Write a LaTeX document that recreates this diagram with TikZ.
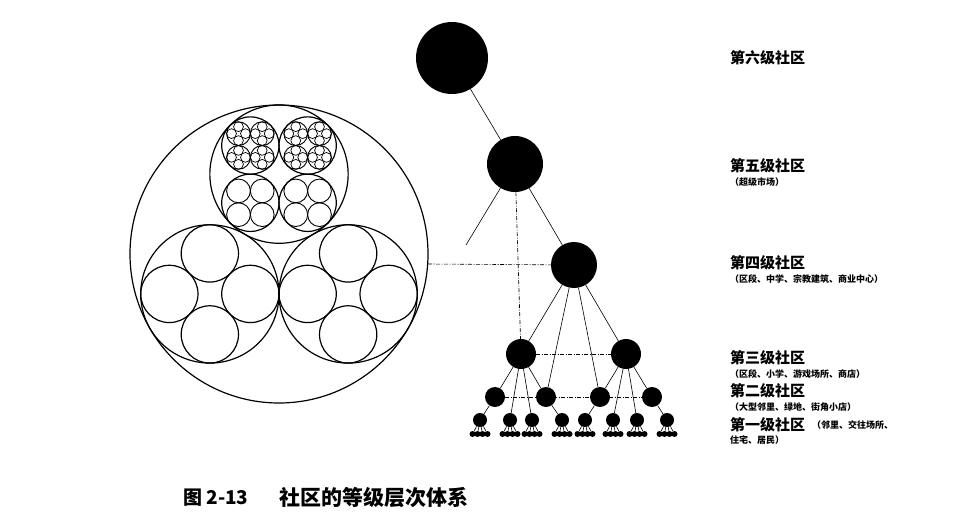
\documentclass[tikz,border=0pt]{standalone}
\usepackage{fontspec}
\newfontfamily\cjk{Noto Sans CJK SC}
\usetikzlibrary{calc}

\begin{document}
\begin{tikzpicture}[x=1pt, y=-1pt,
    dot/.style={circle, fill=black, inner sep=0pt},
    link/.style={line width=0.6pt},
    dlink/.style={line width=0.6pt, dash pattern=on 4pt off 1.5pt on 1pt off 1.5pt},
    ring/.style={line width=1.2pt},
    lab/.style={anchor=west, inner sep=0pt, font=\cjk\bfseries\fontsize{15}{15}\selectfont},
    sub/.style={anchor=west, inner sep=0pt, font=\cjk\bfseries\fontsize{9}{9}\selectfont}]

    \useasboundingbox (0,0) rectangle (954,522);

    % --- 1. 变量定义 ---
    \pgfmathsetmacro{\cx}{279}
    \pgfmathsetmacro{\cy}{254}
    \pgfmathsetmacro{\R}{149}
    \pgfmathsetmacro{\ra}{\R/(1+2/sqrt(3))}
    \pgfmathsetmacro{\da}{\R-\ra}
    \pgfmathsetmacro{\rb}{\ra/(1+sqrt(2))}
    \pgfmathsetmacro{\db}{\ra-\rb}
    \pgfmathsetmacro{\rc}{\rb/(1+sqrt(2))}
    \pgfmathsetmacro{\dc}{\rb-\rc}
    \pgfmathsetmacro{\rd}{\rc/(1+sqrt(2))}
    \pgfmathsetmacro{\dd}{\rc-\rd}

    % --- 2. 嵌套圆 ---
    \draw[ring] (\cx,\cy) circle (\R pt);
    \coordinate (top) at (\cx,\cy-\da);
    \draw[ring] (top) circle (\ra pt);
    \foreach \s in {-1,1} {
        \coordinate (low) at ({\cx+\s*\da*cos(30)},{\cy+\da*sin(30)});
        \draw[ring] (low) circle (\ra pt);
        \foreach \ang in {0,90,180,270}
            \draw[ring] ($(low)+(\ang:\db pt)$) circle (\rb pt);
    }
    % 上部圆内再细分
    \foreach \ang in {45,135,225,315} {
        \coordinate (q) at ($(top)+(\ang:\db pt)$);
        \draw[ring] (q) circle (\rb pt);
        \foreach \bng in {45,135,225,315} {
            \coordinate (p) at ($(q)+(\bng:\dc pt)$);
            \draw[line width=0.9pt] (p) circle (\rc pt);
            \ifnum\ang<180
                \foreach \cng in {0,90,180,270}
                    \draw[line width=0.7pt] ($(p)+(\cng:\dd pt)$) circle (\rd pt);
            \fi
        }
    }

    % --- 3. 等级节点 ---
    \node[dot, minimum size=72pt] (n6) at (452,58) {};
    \node[dot, minimum size=56pt] (n5) at (515,164) {};
    \node[dot, minimum size=46pt] (n4) at (574,265) {};
    \node[dot, minimum size=30pt] (n3a) at (521,354) {};
    \node[dot, minimum size=30pt] (n3b) at (626,354) {};
    \foreach \i/\x in {1/495,2/546,3/600,4/652}
        \node[dot, minimum size=20pt] (n2\i) at (\x,397) {};
    \foreach \i/\x in {1/480,2/510,3/532,4/562,5/585,6/613,7/637,8/667} {
        \node[dot, minimum size=14pt] (n1\i) at (\x,420) {};
        \foreach \j/\dx in {1/-7.5,2/-2.5,3/2.5,4/7.5} {
            \node[dot, minimum size=6pt] (n0\i\j) at (\x+\dx,434) {};
            \draw[line width=0.6pt] (n1\i) -- (n0\i\j);
        }
    }

    % --- 4. 连线 ---
    \coordinate (cut) at (466,245);
    \coordinate (bigE) at (428,264);
    \draw[link] (n6) -- (n5);
    \draw[link] (n5) -- (n4);
    \draw[link] (n5) -- (cut);
    \draw[dlink] (n5) -- (n3a);
    \draw[dlink] (bigE) -- (n4);
    \foreach \t in {n3a,n22,n23,n3b}
        \draw[link] (n4) -- (\t);
    \draw[dlink] (n3a) -- (n3b);
    \draw[dlink] (n21) -- (n24);
    \foreach \t in {n21,n12,n13,n22}
        \draw[link] (n3a) -- (\t);
    \foreach \t in {n23,n16,n17,n24}
        \draw[link] (n3b) -- (\t);
    \foreach \a/\b in {n21/n11,n22/n14,n23/n15,n24/n18}
        \draw[link] (\a) -- (\b);

    % --- 5. 文字说明 ---
    \node[lab] (t6) at (730,58) {第六级社区};
    \node[lab] (t5) at (730,166) {第五级社区};
    \node[sub] (s5) at (730,182) {（超级市场）};
    \node[lab] (t4) at (730,263) {第四级社区};
    \node[sub] (s4) at (730,279) {（区段、中学、宗教建筑、商业中心）};
    \node[lab] (t3) at (730,358) {第三级社区};
    \node[sub] (s3) at (730,374) {（区段、小学、游戏场所、商店）};
    \node[lab] (t2) at (730,391) {第二级社区};
    \node[sub] (s2) at (730,407) {（大型邻里、绿地、街角小店）};
    \node[lab] (t1) at (730,425) {第一级社区};
    \node[sub] (s1a) at (812,425) {（邻里、交往场所、};
    \node[sub] (s1b) at (730,440) {住宅、居民）};

    \node[anchor=east, font=\cjk\bfseries\fontsize{19}{19}\selectfont] (fig) at (252,498) {图 2-13};
    \node[font=\cjk\bfseries\fontsize{21}{21}\selectfont] (cap) at (374,498) {社区的等级层次体系};

\end{tikzpicture}
\end{document}
